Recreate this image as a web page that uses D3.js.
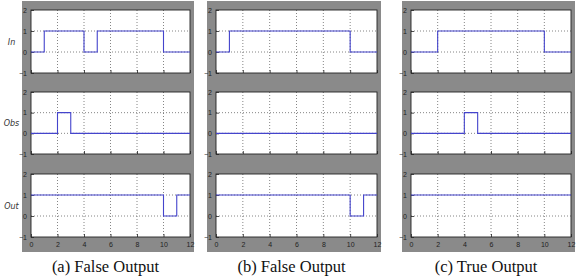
<!DOCTYPE html>
<html>
<head>
<meta charset="utf-8">
<script src="https://cdn.jsdelivr.net/npm/d3@7"></script>
<style>
  body { margin: 0; background: #fff; }
  svg { display: block; }
</style>
</head>
<body>
<div id="chart"></div>
<script>
// step signals: breakpoints (time) and the value held from that time on
const stepTimesInA = [0, 1, 4, 5, 10, 12];
const stepValsInA = [0, 1, 0, 1, 0, 0];
const stepTimesObsA = [0, 2, 3, 12];
const stepValsObsA = [0, 1, 0, 0];
const stepTimesOutA = [0, 10, 11, 12];
const stepValsOutA = [1, 0, 1, 1];

const stepTimesInB = [0, 1, 10, 12];
const stepValsInB = [0, 1, 0, 0];
const stepTimesObsB = [0, 12];
const stepValsObsB = [0, 0];
const stepTimesOutB = [0, 10, 11, 12];
const stepValsOutB = [1, 0, 1, 1];

const stepTimesInC = [0, 2, 10, 12];
const stepValsInC = [0, 1, 0, 0];
const stepTimesObsC = [0, 4, 5, 12];
const stepValsObsC = [0, 1, 0, 0];
const stepTimesOutC = [0, 12];
const stepValsOutC = [1, 1];

const rowLabels = ['In', 'Obs', 'Out'];
const captions = ['(a) False Output', '(b) False Output', '(c) True Output'];
const xTicks = [0, 2, 4, 6, 8, 10, 12];
const yTicks = [-1, 0, 1, 2];

const panels = [
    { caption: captions[0], left: 31, right: 190, rows: [
        [stepTimesInA, stepValsInA], [stepTimesObsA, stepValsObsA], [stepTimesOutA, stepValsOutA]] },
    { caption: captions[1], left: 216, right: 377, rows: [
        [stepTimesInB, stepValsInB], [stepTimesObsB, stepValsObsB], [stepTimesOutB, stepValsOutB]] },
    { caption: captions[2], left: 411, right: 571, rows: [
        [stepTimesInC, stepValsInC], [stepTimesObsC, stepValsObsC], [stepTimesOutC, stepValsOutC]] }
];
const rowBands = [[10, 73], [92, 154], [174, 237]];

const svg = d3.select('#chart').append('svg')
    .attr('width', 579)
    .attr('height', 279)
    .style('font-family', 'DejaVu Sans, sans-serif');

// row labels on the far left
svg.selectAll('text.rowlab')
    .data(rowLabels)
    .join('text')
    .attr('class', 'rowlab')
    .attr('x', 11.5)
    .attr('y', (d, i) => (rowBands[i][0] + rowBands[i][1]) / 2 + 3)
    .attr('text-anchor', 'middle')
    .style('font-size', '8px')
    .style('font-style', 'italic')
    .attr('fill', '#333')
    .text(d => d);

panels.forEach(p => {
    const pg = svg.append('g');

    // grey figure background
    pg.append('rect')
        .attr('x', p.left - 9)
        .attr('y', 1)
        .attr('width', p.right - p.left + 13)
        .attr('height', 251)
        .attr('fill', '#8a8a8a');

    const x = d3.scaleLinear().domain([0, 12]).range([p.left, p.right]);

    p.rows.forEach(([times, vals], ri) => {
        const y = d3.scaleLinear().domain([-1, 2]).range([rowBands[ri][1], rowBands[ri][0]]);
        const g = pg.append('g');

        g.append('rect')
            .attr('x', p.left).attr('y', rowBands[ri][0])
            .attr('width', p.right - p.left)
            .attr('height', rowBands[ri][1] - rowBands[ri][0])
            .attr('fill', '#fff');

        // dotted grid
        g.selectAll('line.gx')
            .data(xTicks.slice(1, -1))
            .join('line')
            .attr('x1', d => x(d)).attr('x2', d => x(d))
            .attr('y1', y(2)).attr('y2', y(-1))
            .attr('stroke', '#666')
            .attr('stroke-width', 0.8)
            .attr('stroke-dasharray', '1,2');
        g.selectAll('line.gy')
            .data(yTicks.slice(1, -1))
            .join('line')
            .attr('x1', x(0)).attr('x2', x(12))
            .attr('y1', d => y(d)).attr('y2', d => y(d))
            .attr('stroke', '#666')
            .attr('stroke-width', 0.8)
            .attr('stroke-dasharray', '1,2');

        // axes with inward ticks
        const yAxis = g.append('g')
            .attr('transform', `translate(${p.left},0)`)
            .call(d3.axisLeft(y).tickValues(yTicks).tickSize(-3).tickPadding(4)
                .tickFormat(d3.format('d')));
        const xAxis = g.append('g')
            .attr('transform', `translate(0,${rowBands[ri][1]})`)
            .call(d3.axisBottom(x).tickValues(xTicks).tickSize(-3).tickPadding(5)
                .tickFormat(ri === 2 ? d3.format('d') : ''));
        [yAxis, xAxis].forEach(a => {
            a.select('.domain').remove();
            a.selectAll('line').attr('stroke', '#222').attr('stroke-width', 0.8);
            a.selectAll('text').attr('fill', '#222').style('font-size', '7px');
        });
        g.append('rect')
            .attr('x', p.left).attr('y', rowBands[ri][0])
            .attr('width', p.right - p.left)
            .attr('height', rowBands[ri][1] - rowBands[ri][0])
            .attr('fill', 'none')
            .attr('stroke', '#222')
            .attr('stroke-width', 0.9);

        const line = d3.line()
            .x(d => x(d[0]))
            .y(d => y(d[1]))
            .curve(d3.curveStepAfter);
        g.append('path')
            .datum(times.map((t, i) => [t, vals[i]]))
            .attr('d', line)
            .attr('fill', 'none')
            .attr('stroke', '#4444cc')
            .attr('stroke-width', 1.1);
    });

    pg.append('text')
        .attr('x', (p.left + p.right) / 2 - 5)
        .attr('y', 272)
        .attr('text-anchor', 'middle')
        .style('font-family', 'Liberation Serif, DejaVu Serif, serif')
        .style('font-size', '16.5px')
        .attr('fill', '#111')
        .text(p.caption);
});
</script>
</body>
</html>
